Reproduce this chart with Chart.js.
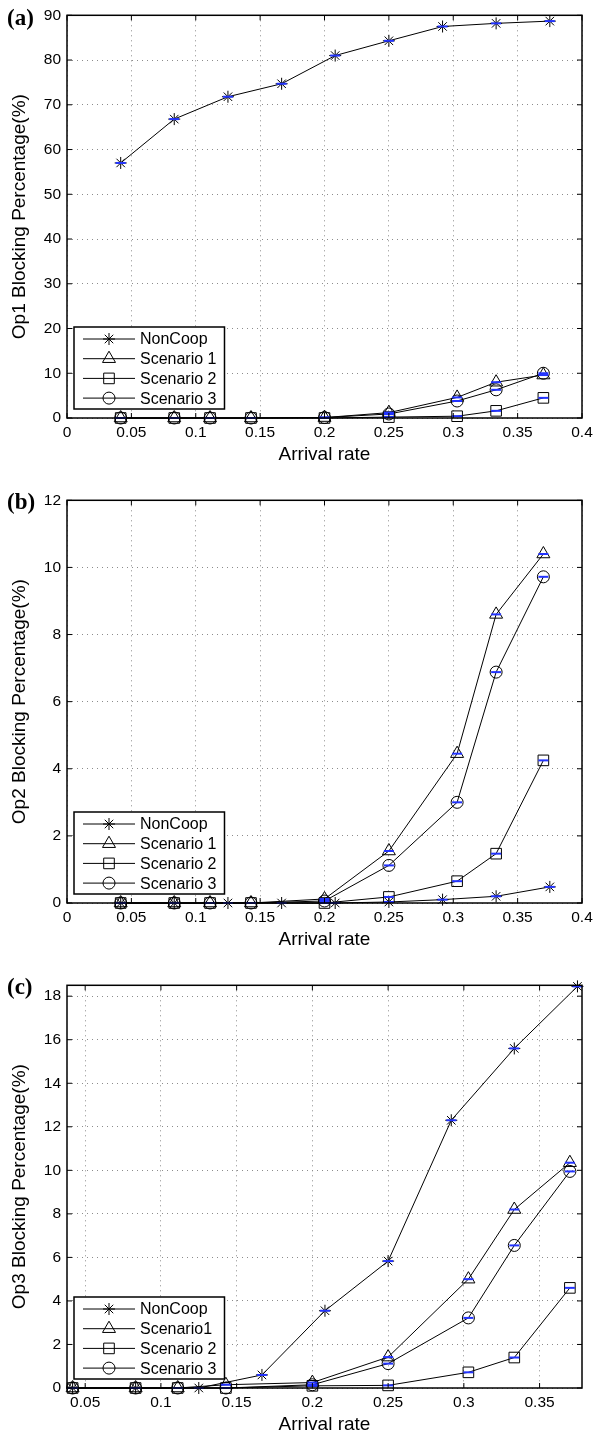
<!DOCTYPE html>
<html>
<head>
<meta charset="utf-8">
<script src="https://cdn.jsdelivr.net/npm/chart.js@4.4.1/dist/chart.umd.min.js"></script>
<style>
  body { margin: 0; background: #fff; width: 600px; height: 1436px; overflow: hidden; position: relative; }
  .panel { position: absolute; left: 0; width: 600px; height: 466px; }
  .tag { position: absolute; left: 7px; font: bold 23px "Liberation Serif", "Times New Roman", serif; line-height: 1; color: #000; }
</style>
</head>
<body>
<div class="panel" style="top:0px"><canvas id="chartA"></canvas></div>
<div class="panel" style="top:485px"><canvas id="chartB"></canvas></div>
<div class="panel" style="top:970px"><canvas id="chartC"></canvas></div>
<div class="tag" style="top:6px">(a)</div>
<div class="tag" style="top:490px">(b)</div>
<div class="tag" style="top:975px">(c)</div>
<script>
// arrival rates (x values) for each kind of series
const nonCoopRate = [0.0417, 0.0833, 0.125, 0.1667, 0.2083, 0.25, 0.2917, 0.3333, 0.375];
const scenarioRate = [0.0417, 0.0833, 0.1111, 0.1429, 0.2, 0.25, 0.303, 0.3333, 0.37];

// (a) Op1
const op1NonCoop = [57.0, 66.8, 71.8, 74.7, 81.0, 84.3, 87.5, 88.2, 88.7];
const op1Scen1 = [0, 0, 0, 0, 0.1, 1.2, 4.6, 8.0, 9.6];
const op1Scen2 = [0, 0, 0, 0, 0, 0.2, 0.4, 1.6, 4.5];
const op1Scen3 = [0, 0, 0, 0, 0.1, 0.9, 3.8, 6.3, 10.0];

// (b) Op2
const op2NonCoop = [0, 0, 0, 0, 0, 0.03, 0.1, 0.2, 0.48];
const op2Scen1 = [0, 0, 0, 0, 0.12, 1.55, 4.45, 8.6, 10.4];
const op2Scen2 = [0, 0, 0, 0, 0, 0.18, 0.65, 1.47, 4.25];
const op2Scen3 = [0, 0, 0, 0, 0.06, 1.12, 3.0, 6.88, 9.72];

// (c) Op3
const op3NonCoop = [0, 0, 0, 0.6, 3.55, 5.83, 12.3, 15.6, 18.45];
const op3Scen1 = [0, 0, 0, 0.15, 0.25, 1.42, 5.0, 8.2, 10.35];
const op3Scen2 = [0, 0, 0, 0, 0.1, 0.12, 0.72, 1.4, 4.6];
const op3Scen3 = [0, 0, 0, 0, 0.15, 1.12, 3.22, 6.55, 9.95];

const labelsAB = ["NonCoop", "Scenario 1", "Scenario 2", "Scenario 3"];
const labelsC = ["NonCoop", "Scenario1", "Scenario 2", "Scenario 3"];

const FONT = '"Liberation Sans", Arial, sans-serif';
Chart.defaults.font.family = FONT;
Chart.defaults.color = "#000";

const markers = [
  { style: "star", radius: 6 },
  { style: "triangle", radius: 7.5 },
  { style: "rect", radius: 7.5 },
  { style: "circle", radius: 6 },
];

function pts(xs, ys) {
  return xs.map((x, i) => ({ x: x, y: ys[i] }));
}

function series(label, xs, ys, m) {
  return {
    label: label,
    data: pts(xs, ys),
    borderColor: "#000",
    borderWidth: 1,
    backgroundColor: "rgba(0,0,0,0)",
    pointStyle: m.style,
    pointRadius: m.radius,
    pointBorderColor: "#000",
    pointBorderWidth: 1,
    pointBackgroundColor: "rgba(0,0,0,0)",
    tension: 0,
    clip: false,
  };
}

// small blue error-bar caps at each point
function caps(xs, ys) {
  return {
    label: "",
    isCap: true,
    data: pts(xs, ys),
    showLine: false,
    pointStyle: "line",
    pointRadius: 5,
    pointBorderColor: "#2233ff",
    pointBorderWidth: 2,
    order: -1,
    clip: false,
  };
}

function fmt(v) {
  return String(parseFloat(v.toFixed(3)));
}

// box round the plot with inward ticks on all four sides
const framePlugin = {
  id: "frame",
  afterDatasetsDraw(chart) {
    const { ctx, chartArea: a, scales } = chart;
    ctx.save();
    ctx.strokeStyle = "#000";
    ctx.lineWidth = 1;
    ctx.beginPath();
    scales.x.ticks.forEach((t) => {
      const px = scales.x.getPixelForValue(t.value);
      ctx.moveTo(px, a.bottom); ctx.lineTo(px, a.bottom - 5);
      ctx.moveTo(px, a.top); ctx.lineTo(px, a.top + 5);
    });
    scales.y.ticks.forEach((t) => {
      const py = scales.y.getPixelForValue(t.value);
      ctx.moveTo(a.left, py); ctx.lineTo(a.left + 5, py);
      ctx.moveTo(a.right, py); ctx.lineTo(a.right - 5, py);
    });
    ctx.stroke();
    ctx.lineWidth = 1.5;
    ctx.strokeRect(a.left, a.top, a.right - a.left, a.bottom - a.top);
    ctx.restore();
  },
};

// matlab style legend box in the lower left corner
const boxLegend = {
  id: "boxLegend",
  afterDraw(chart) {
    const { ctx, chartArea: a } = chart;
    const items = chart.data.datasets.filter((d) => !d.isCap);
    ctx.save();
    ctx.font = "16px " + FONT;
    let tw = 0;
    items.forEach((d) => { tw = Math.max(tw, ctx.measureText(d.label).width); });
    const w = 66 + tw + 8, h = 82, rowH = 19.7;
    const x0 = a.left + 7, y0 = a.bottom - 9 - h;
    ctx.fillStyle = "#fff";
    ctx.fillRect(x0, y0, w, h);
    ctx.strokeStyle = "#000";
    ctx.lineWidth = 1.5;
    ctx.strokeRect(x0, y0, w, h);
    items.forEach((d, i) => {
      const y = y0 + 12 + i * rowH;
      ctx.strokeStyle = "#000";
      ctx.lineWidth = 1;
      ctx.beginPath();
      ctx.moveTo(x0 + 9, y);
      ctx.lineTo(x0 + 61, y);
      ctx.stroke();
      ctx.fillStyle = "rgba(0,0,0,0)";
      Chart.helpers.drawPoint(ctx, { pointStyle: d.pointStyle, radius: d.pointRadius, rotation: 0, borderWidth: 1 }, x0 + 35, y);
      ctx.fillStyle = "#000";
      ctx.textBaseline = "middle";
      ctx.textAlign = "left";
      ctx.fillText(d.label, x0 + 66, y + 1);
    });
    ctx.restore();
  },
};

function makeChart(id, names, ys, opts) {
  const datasets = [];
  ys.forEach((vals, i) => {
    const xs = i === 0 ? nonCoopRate : scenarioRate;
    datasets.push(series(names[i], xs, vals, markers[i]));
  });
  ys.forEach((vals, i) => {
    const xs = i === 0 ? nonCoopRate : scenarioRate;
    datasets.push(caps(xs, vals));
  });
  const gridStyle = { color: "#8c8c8c", lineWidth: 1, drawTicks: false, borderDash: [1, 4] };
  new Chart(document.getElementById(id), {
    type: "line",
    data: { datasets: datasets },
    plugins: [framePlugin, boxLegend],
    options: {
      responsive: true,
      maintainAspectRatio: false,
      animation: false,
      events: [],
      layout: { padding: { top: opts.top, right: 18, left: 0, bottom: 0 } },
      plugins: { legend: { display: false }, tooltip: { enabled: false } },
      scales: {
        x: {
          type: "linear",
          min: opts.xMin,
          max: opts.xMax,
          afterFit: (s) => { s.height = 48; },
          grid: gridStyle,
          border: { display: false, dash: [1, 4] },
          ticks: {
            stepSize: 0.05, includeBounds: false, autoSkip: false, maxRotation: 0,
            padding: 5, color: "#000", font: { size: 15.5 }, callback: fmt,
          },
          title: { display: true, text: "Arrival rate", color: "#000", font: { size: 19 }, padding: { top: 0, bottom: 0 } },
        },
        y: {
          type: "linear",
          min: 0,
          max: opts.yMax,
          afterFit: (s) => { s.width = 67; },
          grid: gridStyle,
          border: { display: false, dash: [1, 4] },
          ticks: { stepSize: opts.yStep, includeBounds: false, padding: 6, color: "#000", font: { size: 15.5 } },
          title: { display: true, text: opts.yTitle, color: "#000", font: { size: 19 }, padding: { top: 8, bottom: 0 } },
        },
      },
    },
  });
}

makeChart("chartA", labelsAB, [op1NonCoop, op1Scen1, op1Scen2, op1Scen3],
  { xMin: 0, xMax: 0.4, yMax: 90, yStep: 10, top: 11, yTitle: "Op1 Blocking Percentage(%)" });
makeChart("chartB", labelsAB, [op2NonCoop, op2Scen1, op2Scen2, op2Scen3],
  { xMin: 0, xMax: 0.4, yMax: 12, yStep: 2, top: 11, yTitle: "Op2 Blocking Percentage(%)" });
makeChart("chartC", labelsC, [op3NonCoop, op3Scen1, op3Scen2, op3Scen3],
  { xMin: 0.038, xMax: 0.378, yMax: 18.5, yStep: 2, top: 10, yTitle: "Op3 Blocking Percentage(%)" });
</script>
</body>
</html>
